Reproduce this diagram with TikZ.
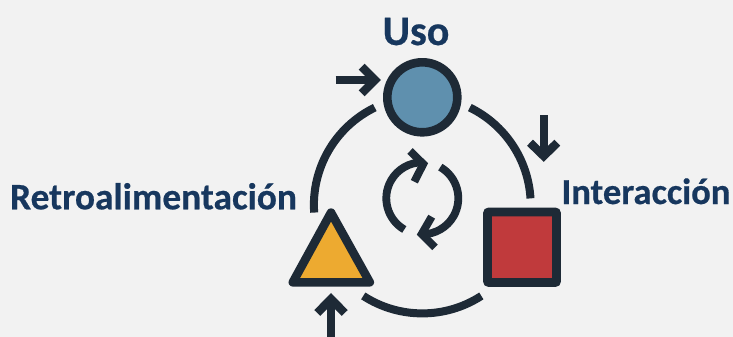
\documentclass[tikz,border=0pt]{standalone}
\usepackage{fontspec}
\setmainfont[BoldFeatures={FakeBold=0.5}]{Carlito}
\definecolor{bgc}{HTML}{F2F2F2}
\definecolor{ink}{HTML}{1E2A36}
\definecolor{lab}{HTML}{17375E}
\definecolor{blu}{HTML}{5F90AE}
\definecolor{rd}{HTML}{C03A3C}
\definecolor{yl}{HTML}{EDAA30}
\tikzset{
  shapeline/.style={draw=ink,line width=8.6pt,line join=round},
  arcline/.style={draw=ink,line width=8pt},
  arrowline/.style={draw=ink,line width=8.4pt,line join=miter},
  cycleline/.style={draw=ink,line width=7.8pt,line join=miter},
  lbl/.style={text=lab,inner sep=0pt,anchor=base}
}
\begin{document}
\begin{tikzpicture}[x=1pt,y=-1pt]
\useasboundingbox (0,0) rectangle (733,337);
\fill[bgc] (0,0) rectangle (733,337);
% big ring
\coordinate (ring) at (422.3,205);
\draw[arcline] (ring) ++(-184:108.4) arc[start angle=-184,end angle=-116,radius=108.4];
\draw[arcline] (ring) ++(-64:108.4) arc[start angle=-64,end angle=-3.5,radius=108.4];
\draw[arcline] (ring) ++(-237:108.4) arc[start angle=-237,end angle=-303,radius=108.4];
% shapes
\draw[shapeline,fill=blu] (422.3,97.3) circle[radius=35];
\draw[shapeline,fill=rd,rounded corners=0.5pt] (487.5,212) rectangle (556.5,282.5);
\draw[shapeline,fill=yl] (292.8,282.3) -- (331,212.6) -- (369.8,282.3) -- cycle;
% straight arrows
\draw[arrowline] (335.7,80) -- (374,80);
\draw[arrowline] (361.7,66.7) -- (375,80) -- (361.7,93.3);
\draw[arrowline] (543.7,115.3) -- (543.7,155);
\draw[arrowline] (530,142.7) -- (543.7,156) -- (557.3,142.7);
\draw[arrowline] (331,337) -- (331,300);
\draw[arrowline] (317.3,313) -- (331,299) -- (344.7,313);
% cycle arrows
\coordinate (cyc) at (422.3,198.3);
\draw[cycleline] (cyc) ++(-240:36) arc[start angle=-240,end angle=-90,radius=36];
\draw[cycleline] (cyc) ++(-60:36) arc[start angle=-60,end angle=90,radius=36];
\draw[cycleline] (410,151) -- (423.3,164) -- (414.3,181.7);
\draw[cycleline] (431.7,216.7) -- (421.7,234) -- (435,247.3);
% labels
\node[lbl,font=\bfseries\fontsize{42}{42}\selectfont] (uso) at (416,45) {Uso};
\node[lbl,font=\bfseries\fontsize{37.4}{37}\selectfont] (retro) at (153.5,209.3) {Retroalimentación};
\node[lbl,font=\bfseries\fontsize{36.6}{37}\selectfont] (inter) at (646,204) {Interacción};
\end{tikzpicture}
\end{document}
